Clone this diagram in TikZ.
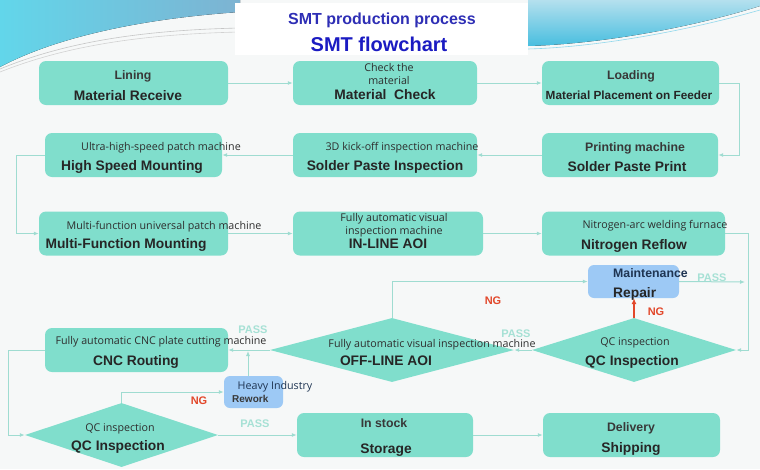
\documentclass[tikz,border=0pt]{standalone}
\usepackage{fontspec}
\setmainfont{Liberation Sans}
\newfontfamily\opensans{Open Sans}
\usepackage{xcolor}
\usepackage{tikz}
\usetikzlibrary{positioning,arrows.meta,shapes.geometric,calc}

\definecolor{boxteal}{HTML}{80DECC}
\definecolor{linkteal}{HTML}{9FDCD1}
\definecolor{passteal}{HTML}{A6E1D5}
\definecolor{repblue}{HTML}{9DC9F5}
\definecolor{ngred}{HTML}{E2482B}
\definecolor{titleblue}{HTML}{2E2EB5}
\definecolor{titledark}{HTML}{1B1BC2}
\definecolor{bggray}{HTML}{F6F8F8}
\definecolor{navytxt}{HTML}{1F3553}
\definecolor{swcyan}{HTML}{62D6EA}
\definecolor{swsteel}{HTML}{7DB3D2}
\definecolor{swlight}{HTML}{B4E0EE}
\definecolor{swdeep}{HTML}{48BEDF}

\begin{document}
\begin{tikzpicture}[
      x=1pt, y=-1pt,
      stagebox/.style={fill=boxteal, rectangle, rounded corners=7pt,
                       minimum height=44pt, inner sep=0pt},
      fixbox/.style={fill=repblue, rectangle, rounded corners=6pt, inner sep=0pt},
      qcdiam/.style={fill=boxteal, diamond, inner sep=0pt},
      maintxt/.style={font=\bfseries\fontsize{13.8}{16}\selectfont, text=black!85,
                      inner sep=0pt, text height=10pt, text depth=0pt},
      subtxt/.style={font=\bfseries\fontsize{12.3}{14}\selectfont, text=black!78,
                     inner sep=0pt, text height=9pt, text depth=0pt},
      smalltxt/.style={font=\opensans\fontsize{10.7}{12}\selectfont, text=black!82,
                       inner sep=0pt, text height=7.5pt, text depth=0pt},
      passtxt/.style={font=\bfseries\fontsize{11}{13}\selectfont, text=passteal,
                      inner sep=0pt, text height=8pt, text depth=0pt},
      ngtxt/.style={font=\bfseries\fontsize{11}{13}\selectfont, text=ngred,
                    inner sep=0pt, text height=8pt, text depth=0pt},
      arr/.style={draw=linkteal, line width=1pt, -{Latex[length=5pt,width=4pt]}},
      ngarr/.style={draw=ngred, line width=1.6pt, -{Latex[length=6pt,width=5pt]}},
    ]
    % background and header swooshes
    \fill[bggray] (0,0) rectangle (760,469);
    \useasboundingbox (0,0) rectangle (760,469);
    \fill[left color=swcyan, right color=swsteel]
      (0,0) -- (240,0) -- (240,12) .. controls (150,18) and (60,35) .. (0,67) -- cycle;
    \draw[gray!45, line width=0.6pt] (0,69) .. controls (70,40) and (150,30) .. (240,28);
    \draw[gray!35, line width=0.6pt] (0,72) .. controls (70,44) and (150,34) .. (240,32);
    \fill[top color=swlight, bottom color=swdeep]
      (528,0) -- (760,0) -- (760,6) .. controls (690,28) and (600,44) .. (528,46) -- cycle;
    \draw[swdeep!60, line width=0.6pt] (528,49) .. controls (600,47) and (690,30) .. (760,10);
    \fill[white] (235,3) rectangle (528,55);
    \node[font=\bfseries\fontsize{16}{18}\selectfont, text=titleblue] (title1) at (382,20) {SMT production process};
    \node[font=\bfseries\fontsize{20}{22}\selectfont, text=titledark] (title2) at (379,44) {SMT flowchart};

    % stages
    \node[stagebox, minimum width=189pt] (recv)   at (133.5,83) {};
    \node[stagebox, minimum width=184pt] (check)  at (385,83) {};
    \node[stagebox, minimum width=177pt] (load)   at (630.5,83) {};
    \node[stagebox, minimum width=177pt] (hsm)    at (133.5,155) {};
    \node[stagebox, minimum width=184pt] (spi)    at (385,155) {};
    \node[stagebox, minimum width=176pt] (print)  at (630,155) {};
    \node[stagebox, minimum width=189pt] (mfm)    at (133.5,233.5) {};
    \node[stagebox, minimum width=190pt] (inaoi)  at (388,233.5) {};
    \node[stagebox, minimum width=183pt] (reflow) at (633.5,233.5) {};
    \node[fixbox, minimum width=91pt, minimum height=33pt] (repair) at (633.5,281.5) {};
    \node[qcdiam, minimum width=204pt, minimum height=64pt] (qcr)    at (634,350) {};
    \node[qcdiam, minimum width=244pt, minimum height=64pt] (offaoi) at (392,350) {};
    \node[stagebox, minimum width=183pt] (cnc)    at (136.5,350) {};
    \node[fixbox, minimum width=59pt, minimum height=32pt] (rework) at (253.5,392) {};
    \node[qcdiam, minimum width=193pt, minimum height=64pt] (qcb)    at (121.5,435) {};
    \node[stagebox, minimum width=176pt] (store)  at (385,435) {};
    \node[stagebox, minimum width=177pt] (ship)   at (631.5,435) {};

    % stage texts
    \node[subtxt]   (recv-s)   at (133,75)  {Lining};
    \node[maintxt]  (recv-m)   at (128,95)  {Material Receive};
    \node[smalltxt] (check-s1) at (389,68)  {Check the};
    \node[smalltxt] (check-s2) at (389,81)  {material};
    \node[maintxt]  (check-m)  at (385,94)  {Material\ \ Check};
    \node[subtxt]   (load-s)   at (631,75)  {Loading};
    \node[maintxt, font=\bfseries\fontsize{11.8}{14}\selectfont] (load-m) at (629,94) {Material Placement on Feeder};
    \node[smalltxt] (hsm-s)    at (161,147) {Ultra-high-speed patch machine};
    \node[maintxt]  (hsm-m)    at (132,165) {High Speed Mounting};
    \node[smalltxt] (spi-s)    at (402,147) {3D kick-off inspection machine};
    \node[maintxt]  (spi-m)    at (385,165) {Solder Paste Inspection};
    \node[subtxt]   (print-s)  at (635,147) {Printing machine};
    \node[maintxt]  (print-m)  at (627,166) {Solder Paste Print};
    \node[smalltxt] (mfm-s)    at (164,226) {Multi-function universal patch machine};
    \node[maintxt]  (mfm-m)    at (126,243) {Multi-Function Mounting};
    \node[smalltxt] (inaoi-s1) at (394,218) {Fully automatic visual};
    \node[smalltxt] (inaoi-s2) at (394,231) {inspection machine};
    \node[maintxt]  (inaoi-m)  at (388,243) {IN-LINE AOI};
    \node[smalltxt] (reflow-s) at (655,225) {Nitrogen-arc welding furnace};
    \node[maintxt]  (reflow-m) at (634,244) {Nitrogen Reflow};
    \node[subtxt, text=navytxt, anchor=west] (repair-s) at (613,273) {Maintenance};
    \node[maintxt, anchor=west] (repair-m) at (613,292) {Repair};
    \node[smalltxt] (qcr-s)    at (635,342) {QC inspection};
    \node[maintxt]  (qcr-m)    at (632,360) {QC Inspection};
    \node[smalltxt] (offaoi-s) at (432,344) {Fully automatic visual inspection machine};
    \node[maintxt]  (offaoi-m) at (386,360) {OFF-LINE AOI};
    \node[smalltxt] (cnc-s)    at (161,341) {Fully automatic CNC plate cutting machine};
    \node[maintxt]  (cnc-m)    at (136,360) {CNC Routing};
    \node[smalltxt, text=navytxt] (rework-s) at (275,386) {Heavy Industry};
    \node[subtxt, font=\bfseries\fontsize{10}{12}\selectfont, anchor=west] (rework-m) at (232,398) {Rework};
    \node[smalltxt] (qcb-s)    at (120,428) {QC inspection};
    \node[maintxt]  (qcb-m)    at (118,445) {QC Inspection};
    \node[subtxt]   (store-s)  at (384,423) {In stock};
    \node[maintxt]  (store-m)  at (386,448) {Storage};
    \node[subtxt]   (ship-s)   at (631,427) {Delivery};
    \node[maintxt]  (ship-m)   at (631,447) {Shipping};

    % flow
    \coordinate (passr) at (745,282);
    \coordinate (join) at (248,351);
    \draw[arr] (recv) -- (check);
    \draw[arr] (check) -- (load);
    \draw[arr] (load.east) -- ++(20,0) |- (print.east);
    \draw[arr] (print) -- (spi);
    \draw[arr] (spi) -- (hsm);
    \draw[arr] (hsm.west) -- ++(-28,0) |- (mfm.west);
    \draw[arr] (mfm) -- (inaoi);
    \draw[arr] (inaoi) -- (reflow);
    \draw[arr] (reflow.east) -- ++(23,0) |- (qcr.east);
    \draw[arr] (repair.east) -- (passr);
    \draw[ngarr] (qcr.north) -- (qcr.north |- repair.south);
    \draw[arr] (qcr.west) -- (offaoi.east);
    \draw[arr] (offaoi.north) |- (repair.west);
    \draw[arr] (offaoi.west) -- (cnc.east);
    \draw[arr] (cnc.west) -- ++(-36,0) |- (qcb.west);
    \draw[arr] (qcb.north) |- (rework.west);
    \draw[arr] (join |- rework.north) -- (join);
    \draw[arr] (qcb.east) -- (store.west);
    \draw[arr] (store) -- (ship);

    % pass / ng labels
    \node[passtxt] (pass1) at (712,277) {PASS};
    \node[ngtxt]   (ng1)   at (656,311) {NG};
    \node[ngtxt]   (ng2)   at (493,300) {NG};
    \node[passtxt] (pass2) at (516,333) {PASS};
    \node[passtxt] (pass3) at (253,329) {PASS};
    \node[ngtxt]   (ng3)   at (199,400) {NG};
    \node[passtxt] (pass4) at (255,423) {PASS};
  \end{tikzpicture}
\end{document}
